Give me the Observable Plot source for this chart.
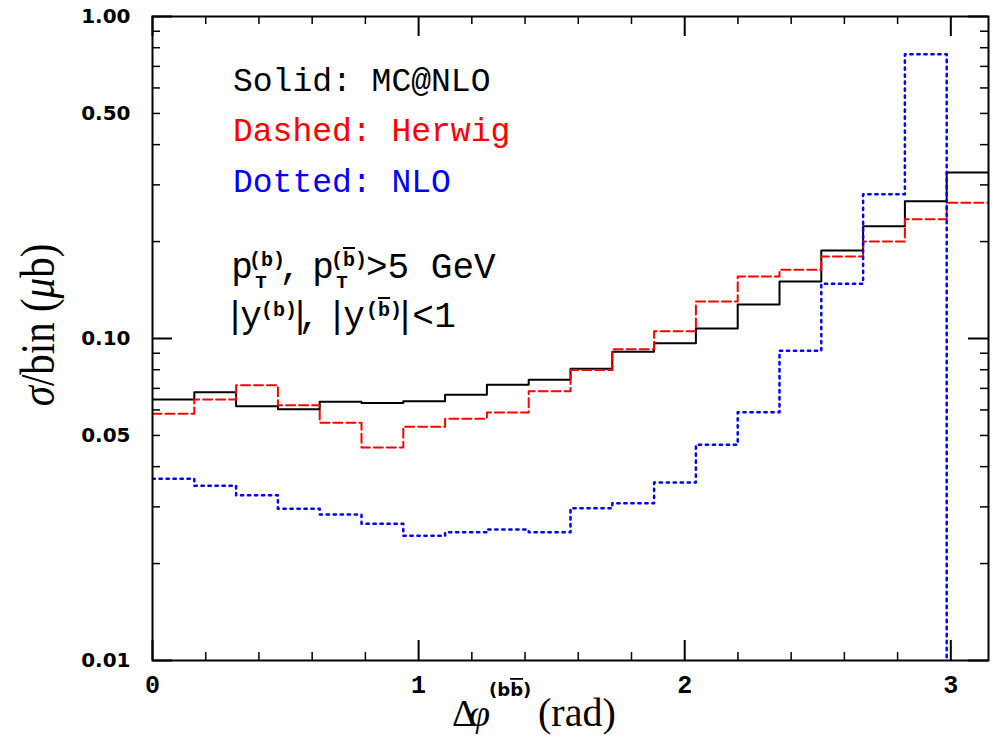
<!DOCTYPE html>
<html><head><meta charset="utf-8">
<script src="https://cdn.jsdelivr.net/npm/d3@7"></script>
<script src="https://cdn.jsdelivr.net/npm/@observablehq/plot@0.6"></script>
<style>html,body{margin:0;padding:0;background:#fff;} svg{display:block;}</style>
</head><body><div id="chart"></div>
<script>
// ---- data ----
const nBins = 20;
const xMax = Math.PI;
const binEdges = d3.range(nBins + 1).map(i => i * xMax / nBins);
const mcnlo  = [0.0647,0.0681,0.0616,0.0603,0.0636,0.0630,0.0639,0.0669,0.0718,0.0744,0.0805,0.0909,0.0967,0.1074,0.1275,0.1503,0.1876,0.2233,0.2669,0.3279];
const herwig = [0.0584,0.0647,0.0716,0.0621,0.0547,0.0459,0.0532,0.0563,0.0589,0.0686,0.0799,0.0926,0.1054,0.1302,0.1558,0.1634,0.1797,0.2001,0.2347,0.2638];
// last NLO bin is negative (below the axis range)
const nlo    = [0.0367,0.0349,0.0326,0.0296,0.0284,0.0266,0.0244,0.0250,0.0255,0.0250,0.0297,0.0308,0.0357,0.0468,0.0590,0.0916,0.1479,0.2807,0.7636,0.001];
const yTickLabels = [0.01,0.05,0.1,0.5,1];
const yMajor = [0.01,0.1,1];
const yMinor = [0.02,0.03,0.04,0.05,0.06,0.07,0.08,0.09,0.2,0.3,0.4,0.5,0.6,0.7,0.8,0.9];
const xTickLabels = [0,1,2,3];
const xMajor = [0,1,2,3];
const xMinor = [0.2,0.4,0.6,0.8,1.2,1.4,1.6,1.8,2.2,2.4,2.6,2.8];

const steps = vals => binEdges.map((x, i) => ({x, y: vals[Math.min(i, nBins - 1)]}));

// ---- layout ----
const W = 997, H = 737, ML = 152, MR = 9, MT = 16, MB = 77;
const PW = W - ML - MR, PH = H - MT - MB;
const majLen = 20, minLen = 8;
const tk = {stroke: "#000"};

const plot = Plot.plot({
  width: W, height: H,
  marginLeft: ML, marginRight: MR, marginTop: MT, marginBottom: MB,
  x: {domain: [0, xMax], axis: null},
  y: {type: "log", domain: [0.01, 1], axis: null},
  style: {background: "#fff", overflow: "visible"},
  marks: [
    Plot.line(steps(mcnlo),  {x: "x", y: "y", curve: "step-after", stroke: "#000", strokeWidth: 2, clip: true}),
    Plot.line(steps(herwig), {x: "x", y: "y", curve: "step-after", stroke: "#ff0000", strokeWidth: 2, strokeDasharray: "9,4", clip: true}),
    Plot.line(steps(nlo),    {x: "x", y: "y", curve: "step-after", stroke: "#0000ff", strokeWidth: 2.5, strokeDasharray: "2.3,4.7", clip: true}),
    Plot.tickY(yMajor, {y: d => d, insetRight: PW - majLen, strokeWidth: 2, ...tk}),
    Plot.tickY(yMajor, {y: d => d, insetLeft: PW - majLen, strokeWidth: 2, ...tk}),
    Plot.tickY(yMinor, {y: d => d, insetRight: PW - minLen, strokeWidth: 1.5, ...tk}),
    Plot.tickY(yMinor, {y: d => d, insetLeft: PW - minLen, strokeWidth: 1.5, ...tk}),
    Plot.tickX(xMajor, {x: d => d, insetTop: PH - majLen, strokeWidth: 2, ...tk}),
    Plot.tickX(xMajor, {x: d => d, insetBottom: PH - majLen, strokeWidth: 2, ...tk}),
    Plot.tickX(xMinor, {x: d => d, insetTop: PH - minLen, strokeWidth: 1.5, ...tk}),
    Plot.tickX(xMinor, {x: d => d, insetBottom: PH - minLen, strokeWidth: 1.5, ...tk}),
    Plot.frame({stroke: "#000", strokeWidth: 2}),
    Plot.text(yTickLabels, {y: d => d, frameAnchor: "left", dx: -22, textAnchor: "end", lineAnchor: "middle",
      text: d => d.toFixed(2), fontSize: 20, fontWeight: "bold", fontFamily: "DejaVu Sans", fill: "#000", ariaLabel: "ytick-labels"}),
    Plot.text(xTickLabels, {x: d => d, frameAnchor: "bottom", dy: 15, lineAnchor: "top",
      text: d => String(d), fontSize: 25, fontWeight: "bold", fontFamily: "Liberation Mono", fill: "#000"})
  ]
});
document.getElementById("chart").appendChild(plot);
const svg = d3.select(plot);
svg.selectAll('g[aria-label="ytick-labels"] text').style("letter-spacing", "1px");

// ---- annotations ----
const ann = svg.append("g").attr("class", "annotations").attr("text-anchor", "start");
function txt(x, y, s, o = {}) {
  return ann.append("text").attr("x", x).attr("y", y).text(s)
    .attr("font-family", o.family || "Liberation Mono")
    .attr("font-size", o.size || 33)
    .attr("font-weight", o.weight || "normal")
    .attr("font-style", o.style || "normal")
    .attr("fill", o.fill || "#000")
    .attr("text-anchor", o.anchor || "start");
}
function sup(x, y, bar, o = {}) {
  const t = ann.append("text").attr("x", x).attr("y", y)
    .attr("text-anchor", "start")
    .attr("font-family", o.family || "Liberation Mono")
    .attr("font-size", o.size || 20)
    .attr("font-weight", "bold").attr("fill", "#000");
  t.append("tspan").text("(");
  if (o.pair) t.append("tspan").text("b");
  const b = t.append("tspan").text("b");
  if (bar) b.style("text-decoration", "overline");
  t.append("tspan").text(")");
  return t;
}

txt(233, 91, "Solid: MC@NLO");
txt(233, 141, "Dashed: Herwig", {fill: "#ff0000"});
txt(233, 192, "Dotted: NLO", {fill: "#0000ff"});

// p_T^(b), p_T^(bbar) > 5 GeV
txt(242, 278, "p", {anchor: "middle", size: 36});
sup(249, 266, false);
txt(261, 288, "T", {anchor: "middle", size: 19, weight: "bold"});
txt(290, 278, ",", {anchor: "middle", size: 36});
txt(323, 278, "p", {anchor: "middle", size: 36});
sup(331, 266, true);
txt(342, 288, "T", {anchor: "middle", size: 19, weight: "bold"});
txt(366, 278, ">5 GeV", {size: 36});

// |y^(b)|, |y^(bbar)| < 1
txt(235, 327, "|", {anchor: "middle", size: 36});
txt(251, 327, "y", {anchor: "middle", size: 36});
sup(261, 316, false);
txt(300, 327, "|", {anchor: "middle", size: 36});
txt(309, 327, ",", {anchor: "middle", size: 36});
txt(337, 327, "|", {anchor: "middle", size: 36});
txt(354, 327, "y", {anchor: "middle", size: 36});
sup(366, 316, true);
txt(405, 327, "|", {anchor: "middle", size: 36});
txt(423, 327, "<", {anchor: "middle", size: 36});
txt(445, 327, "1", {anchor: "middle", size: 36});

// x-axis label
txt(452, 726, "Δ", {family: "Liberation Serif", size: 38});
txt(469, 726, "φ", {family: "Liberation Serif", size: 38, style: "italic"});
sup(489, 696, true, {family: "DejaVu Sans", size: 18, pair: true});
txt(538, 726, "(rad)", {family: "Liberation Serif", size: 40});

// y-axis label
const yl = ann.append("text")
  .attr("transform", "translate(54,325) rotate(-90) scale(1,1.2)")
  .attr("text-anchor", "middle")
  .attr("font-family", "Liberation Serif").attr("font-size", 41).attr("fill", "#000");
yl.append("tspan").attr("font-style", "italic").text("σ");
yl.append("tspan").text("/bin (");
yl.append("tspan").attr("font-style", "italic").text("μ");
yl.append("tspan").text("b)");
</script>
</body></html>
